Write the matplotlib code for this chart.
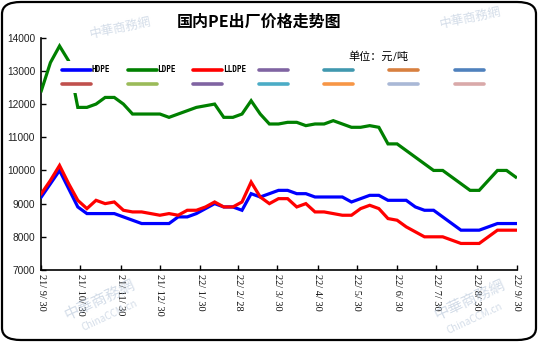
import matplotlib
matplotlib.use("Agg")
import matplotlib.pyplot as plt
from matplotlib.lines import Line2D
from matplotlib.patches import FancyBboxPatch, Rectangle
import pandas as pd

plt.rcParams['font.family'] = ['DejaVu Sans', 'Noto Sans CJK SC']

# ---------------- data ----------------
start_date = "2021-09-30"
n_points = 53
hdpe = [9200, 9600, 10000, 9450, 8900, 8700, 8700, 8700, 8700, 8600,
        8500, 8400, 8400, 8400, 8400, 8600, 8600, 8700, 8850, 9000,
        8900, 8900, 8800, 9300, 9200, 9300, 9400, 9400, 9300, 9300,
        9200, 9200, 9200, 9200, 9050, 9150, 9250, 9250, 9100, 9100,
        9100, 8900, 8800, 8800, 8600, 8400, 8200, 8200, 8200, 8300,
        8400, 8400, 8400]
ldpe = [12400, 13250, 13750, 13300, 11900, 11900, 12000, 12200, 12200, 12000,
        11700, 11700, 11700, 11700, 11600, 11700, 11800, 11900, 11950, 12000,
        11600, 11600, 11700, 12100, 11700, 11400, 11400, 11450, 11450, 11350,
        11400, 11400, 11500, 11400, 11300, 11300, 11350, 11300, 10800, 10800,
        10600, 10400, 10200, 10000, 10000, 9800, 9600, 9400, 9400, 9700,
        10000, 10000, 9800]
lldpe = [9300, 9700, 10150, 9600, 9100, 8850, 9100, 9000, 9050, 8800,
         8750, 8750, 8700, 8650, 8700, 8650, 8800, 8800, 8900, 9050,
         8900, 8900, 9050, 9650, 9200, 9000, 9150, 9150, 8900, 9000,
         8750, 8750, 8700, 8650, 8650, 8850, 8950, 8850, 8550, 8500,
         8300, 8150, 8000, 8000, 8000, 7900, 7800, 7800, 7800, 8000,
         8200, 8200, 8200]
series_names = ["HDPE", "LDPE", "LLDPE"]
series_colors = ["#0000FF", "#008000", "#FF0000"]
extra_legend_colors_row1 = ["#8064A2", "#4198AF", "#D8803F", "#4F81BD"]
extra_legend_colors_row2 = ["#C0504D", "#9BBB59", "#8064A2", "#4BACC6",
                            "#F79646", "#A9B8D6", "#D9A9A9"]
tick_dates = ["2021-09-30", "2021-10-30", "2021-11-30", "2021-12-30",
              "2022-01-30", "2022-02-28", "2022-03-30", "2022-04-30",
              "2022-05-30", "2022-06-30", "2022-07-30", "2022-08-30",
              "2022-09-30"]
tick_labels = ["21/ 9/ 30", "21/ 10/ 30", "21/ 11/ 30", "21/ 12/ 30",
               "22/ 1/ 30", "22/ 2/ 28", "22/ 3/ 30", "22/ 4/ 30",
               "22/ 5/ 30", "22/ 6/ 30", "22/ 7/ 30", "22/ 8/ 30",
               "22/ 9/ 30"]
y_ticks = [7000, 8000, 9000, 10000, 11000, 12000, 13000, 14000]
title = "国内PE出厂价格走势图"
unit_text = "单位：元/吨"

dates = pd.date_range(start_date, periods=n_points, freq="7D")

W, H = 538, 342
fig = plt.figure(figsize=(W / 100, H / 100), dpi=100)
fig.patch.set_facecolor("white")

ax = fig.add_axes([41.3 / W, 1 - 270 / H, (517 - 41.3) / W, (270 - 37.7) / H])
for vals, name, col in zip([hdpe, ldpe, lldpe], series_names, series_colors):
    ax.plot(dates, vals, color=col, lw=2.3, solid_joinstyle="miter", zorder=3)

ax.set_ylim(7000, 14000)
ax.set_xlim(pd.Timestamp(tick_dates[0]), pd.Timestamp(tick_dates[-1]))
ax.set_yticks(y_ticks)
ax.set_yticklabels([str(v) for v in y_ticks], fontsize=7.3,
                   family=["Liberation Sans"], color="#222222")
ax.set_xticks([pd.Timestamp(d) for d in tick_dates])
ax.set_xticklabels(tick_labels, rotation=-90, fontsize=7.5,
                   family=["Liberation Serif"], color="#111111")
ax.tick_params(axis="both", direction="in", length=3.5, width=1, pad=3)
ax.tick_params(axis="y", pad=4.5)
for s in ["top", "right"]:
    ax.spines[s].set_visible(False)
for s in ["left", "bottom"]:
    ax.spines[s].set_linewidth(1.2)
ax.patch.set_alpha(0)


def fx(px):
    return px / W


def fy(py):
    return 1 - py / H


# legend box (white, covering lines)
fig.add_artist(Rectangle((fx(56), fy(93)), fx(500) - fx(56), fy(61) - fy(93),
                         transform=fig.transFigure, facecolor="white",
                         edgecolor="none", zorder=5))
col_x = [62, 127.5, 193, 258.5, 323.5, 389, 454.5]
row_y = [70, 84]
row1_colors = series_colors + extra_legend_colors_row1
row1_labels = series_names + ["", "", "", ""]
for j, (c, lab) in enumerate(zip(row1_colors, row1_labels)):
    x0 = col_x[j]
    fig.add_artist(Line2D([fx(x0), fx(x0 + 29)], [fy(row_y[0])] * 2,
                          transform=fig.transFigure, color=c, lw=2.6,
                          solid_capstyle="round", zorder=6))
    if lab:
        fig.text(fx(x0 + 30), fy(row_y[0]), lab, fontsize=5.5,
                 family=["DejaVu Sans Mono"], weight="bold",
                 va="center", ha="left", zorder=6)
for j, c in enumerate(extra_legend_colors_row2):
    x0 = col_x[j]
    fig.add_artist(Line2D([fx(x0), fx(x0 + 29)], [fy(row_y[1])] * 2,
                          transform=fig.transFigure, color=c, lw=2.6,
                          solid_capstyle="round", zorder=6))

# title and unit
fig.text(fx(259), fy(22), title, fontsize=11.5, weight="bold",
         family=["Noto Sans CJK SC", "DejaVu Sans"], ha="center", va="center")
fig.text(fx(378), fy(57), unit_text, fontsize=8,
         family=["Noto Sans CJK SC", "DejaVu Sans"], ha="center", va="center")

# faint watermarks
wm = dict(family=["Noto Sans CJK SC", "DejaVu Sans"], color="#A9BBD2",
          alpha=0.5, ha="center", va="center", zorder=1)
fig.text(fx(120), fy(28), "中華商務網", fontsize=9, rotation=12, **wm)
fig.text(fx(470), fy(18), "中華商務網", fontsize=9, rotation=12, **wm)
fig.text(fx(100), fy(300), "中華商務網", fontsize=11, rotation=25, **wm)
fig.text(fx(110), fy(315), "ChinaCCM.cn", fontsize=7, rotation=25, **wm)
fig.text(fx(470), fy(300), "中華商務網", fontsize=11, rotation=25, **wm)
fig.text(fx(475), fy(318), "ChinaCCM.cn", fontsize=7, rotation=25, **wm)

# rounded border
fig.add_artist(FancyBboxPatch((fx(2), fy(340)), fx(534), fy(2) - fy(340),
                              boxstyle="round,pad=0,rounding_size=0.035",
                              transform=fig.transFigure, facecolor="none",
                              edgecolor="black", lw=1.6, zorder=10))

fig.savefig("out.png", dpi=100, facecolor="white")
